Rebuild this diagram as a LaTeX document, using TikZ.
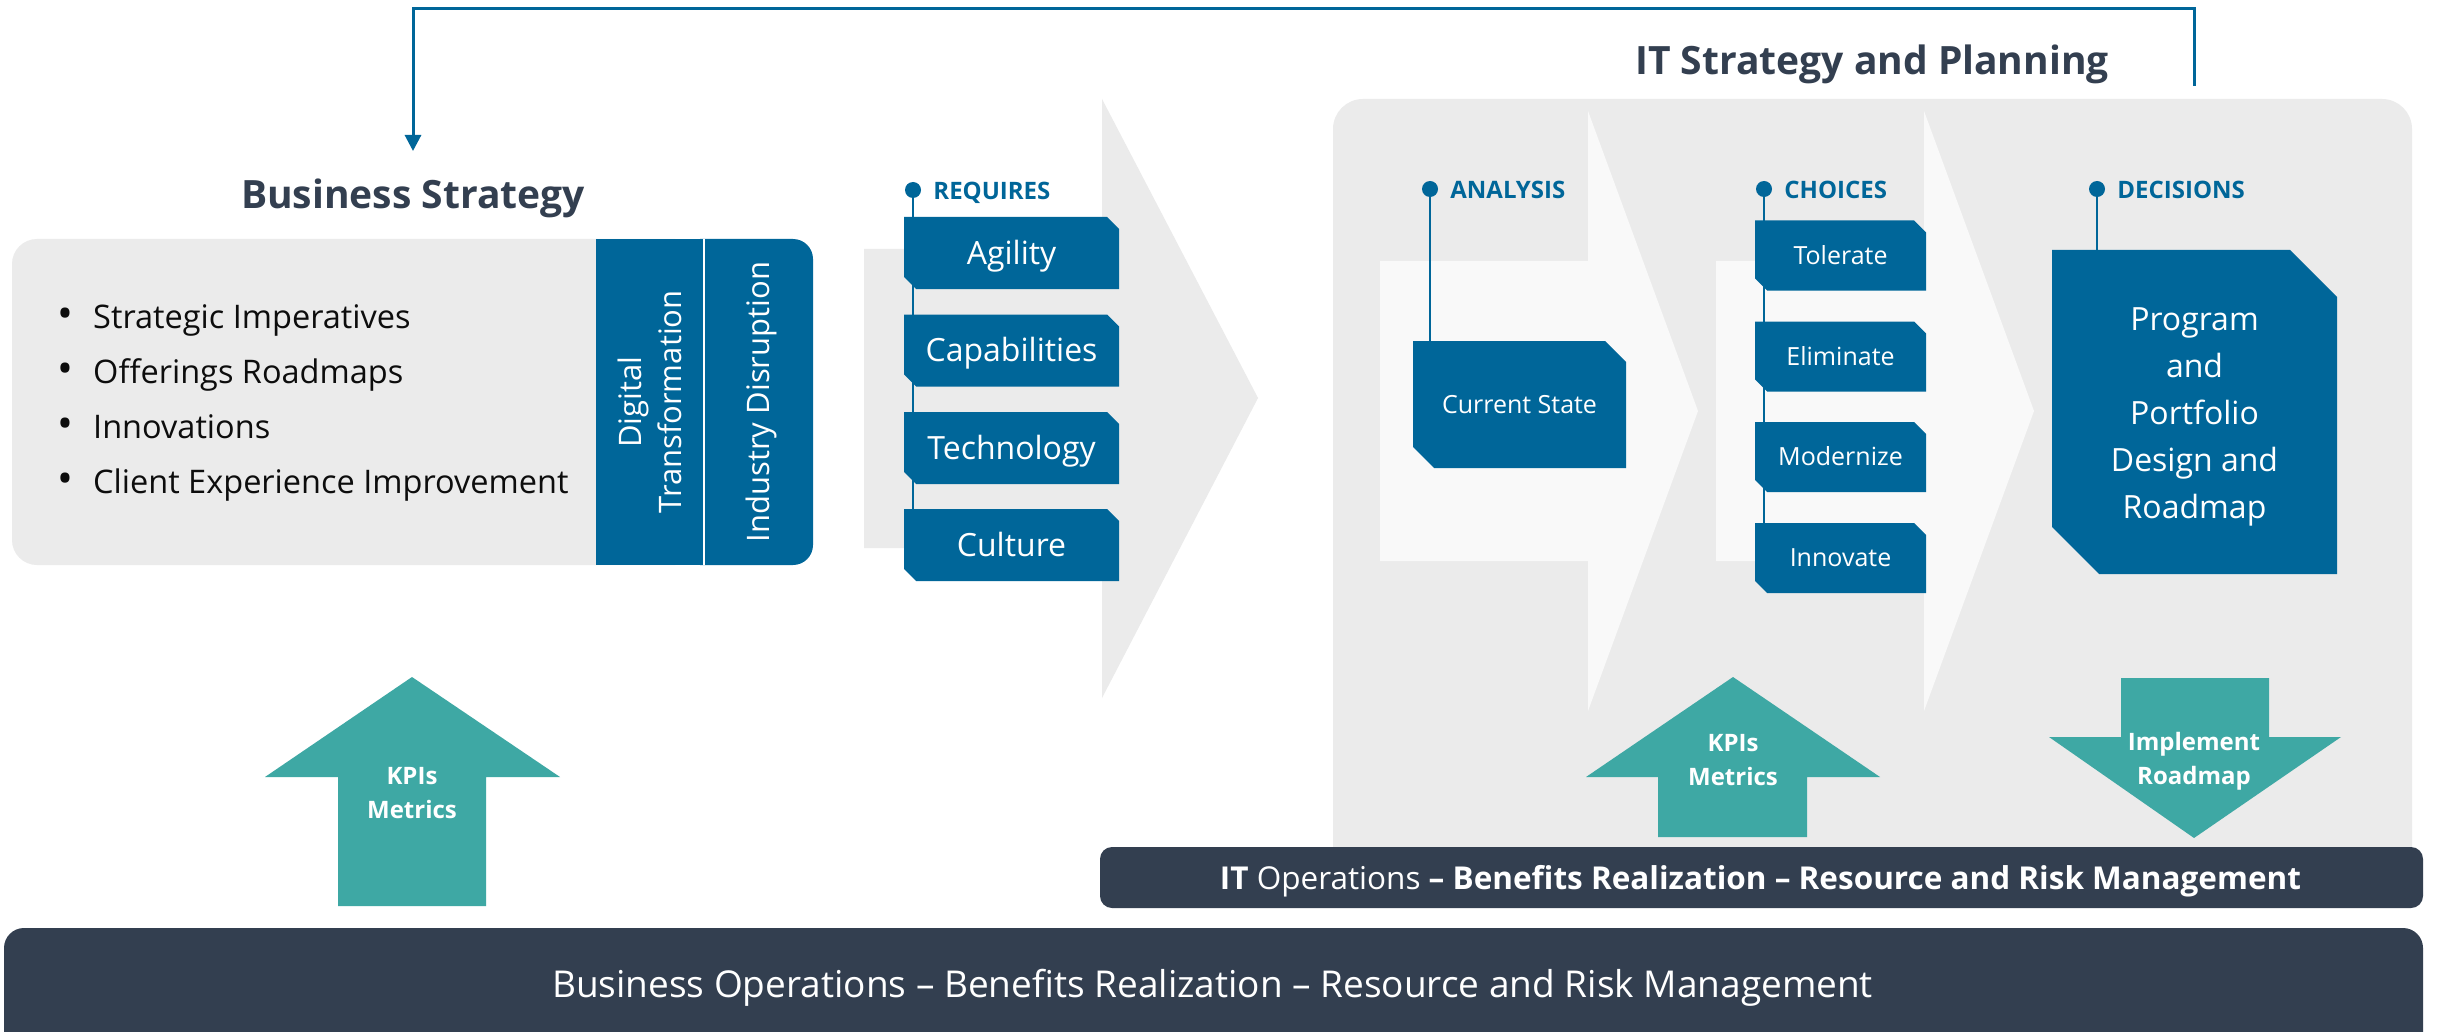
\documentclass[tikz,border=0pt]{standalone}
\usepackage{fontspec}
\setmainfont{Open Sans}
\usetikzlibrary{arrows.meta}

\definecolor{blu}{RGB}{0,102,153}
\definecolor{slate}{RGB}{51,63,80}
\definecolor{tealc}{RGB}{62,168,164}
\definecolor{pgray}{RGB}{235,235,235}
\definecolor{pwhite}{RGB}{249,249,249}
\definecolor{ink}{RGB}{13,13,13}

\pgfdeclarelayer{panels}
\pgfdeclarelayer{wires}
\pgfsetlayers{panels,wires,main}

\newcommand\fsz[2]{\fontsize{#1pt}{#2pt}\selectfont}
\newcommand\bigdot{\makebox[36pt][l]{\scalebox{1.3}{•}}}

% blue box with the top-right and bottom-left corners cut off
% #1 name, #2 text style, #3 cx, #4 cy, #5 width, #6 height, #7 cut, #8 text
\newcommand\cutbox[8]{%
  \fill[blu] ({#3-#5/2},{#4-#6/2}) -- ({#3+#5/2-#7},{#4-#6/2}) -- ({#3+#5/2},{#4-#6/2+#7})
    -- ({#3+#5/2},{#4+#6/2}) -- ({#3-#5/2+#7},{#4+#6/2}) -- ({#3-#5/2},{#4+#6/2-#7}) -- cycle;
  \node[#2, minimum width=#5pt, minimum height=#6pt] (#1) at (#3,#4) {#8};}

\tikzset{
  title/.style={font=\bfseries\fsz{39}{46}, text=slate, inner sep=0pt, text height=27.8pt, text depth=0pt, anchor=base},
  bul/.style={font=\fsz{32.5}{38}, text=ink, inner sep=0pt, anchor=base west},
  vert/.style={rotate=90, align=center, font=\fsz{31}{40}, text=white, inner sep=0pt},
  hdr/.style={font=\bfseries\fsz{24}{28}, text=blu, inner sep=0pt, anchor=base west},
  dotn/.style={circle, fill=blu, inner sep=0pt, minimum size=16pt},
  wire/.style={draw=blu, line width=2.7pt},
  reqtxt/.style={font=\fsz{32}{38}, text=white, inner sep=0pt, text height=22.8pt, text depth=0pt},
  chtxt/.style={font=\fsz{25}{30}, text=white, inner sep=0pt, text height=17.9pt, text depth=0pt},
  dectxt/.style={font=\fsz{32}{47}, text=white, inner sep=0pt, align=center, yshift=-5pt},
  kpi/.style={font=\bfseries\fsz{24}{34}, text=white, inner sep=0pt, align=center},
  opsbar/.style={text=white, inner sep=0pt, text depth=0pt},
  fbline/.style={draw=blu, line width=3pt, -{Triangle[width=16pt,length=16pt]}},
}

\begin{document}
\begin{tikzpicture}[x=1pt, y=-1pt]
\useasboundingbox (0,0) rectangle (2440,1032);

% ---------- background panels ----------
\begin{pgfonlayer}{panels}
  \fill[white] (0,0) rectangle (2440,1032);
  % business strategy card
  \fill[pgray, rounded corners=25pt] (12,239) rectangle (700,565);
  \fill[blu] (596,239) rectangle (701,565);
  \fill[blu, rounded corners=20pt] (700,239) -- (813,239) -- (813,565) -- (700,565);
  \draw[white, line width=2pt] (704,239) -- (704,565);
  % "requires" chevron
  \fill[pgray] (864,249) -- (1102,249) -- (1102,99) -- (1258,398) -- (1102,698) -- (1102,548) -- (864,548) -- cycle;
  % IT strategy panel and its two inner chevrons
  \fill[pgray, rounded corners=30pt] (1333,99) rectangle (2412,880);
  \fill[pwhite] (1380,261) -- (1588,261) -- (1588,111) -- (1698,411) -- (1588,711) -- (1588,561) -- (1380,561) -- cycle;
  \fill[pwhite] (1716,261) -- (1924,261) -- (1924,111) -- (2034,411) -- (1924,711) -- (1924,561) -- (1716,561) -- cycle;
\end{pgfonlayer}

% ---------- titles ----------
\node[title] (bstitle) at (413,209) {Business Strategy};
\node[title] (ittitle) at (1872,75) {IT Strategy and Planning};

% ---------- business strategy card ----------
\node[bul] (b1) at (57,328) {\bigdot Strategic Imperatives};
\node[bul] (b2) at (57,383) {\bigdot Offerings Roadmaps};
\node[bul] (b3) at (57,438) {\bigdot Innovations};
\node[bul] (b4) at (57,493) {\bigdot Client Experience Improvement};
\node[vert] (digital) at (650,402) {Digital\\Transformation};
\node[vert] (disrupt) at (761,402) {Industry Disruption};

% ---------- requires ----------
\node[dotn] (reqdot) at (913,190) {};
\node[hdr] (reqlab) at ([xshift=12pt,yshift=-10pt]reqdot.east) {REQUIRES};
\cutbox{agility}{reqtxt}{1011.5}{253}{215}{72}{12}{Agility}
\cutbox{capab}{reqtxt}{1011.5}{350.5}{215}{72}{12}{Capabilities}
\cutbox{techn}{reqtxt}{1011.5}{448}{215}{72}{12}{Technology}
\cutbox{culture}{reqtxt}{1011.5}{545}{215}{72}{12}{Culture}

% ---------- analysis ----------
\node[dotn] (anadot) at (1430,189) {};
\node[hdr] (analab) at ([xshift=12pt,yshift=-10pt]anadot.east) {ANALYSIS};
\cutbox{current}{chtxt}{1519.5}{404.5}{213}{127}{21}{Current State}

% ---------- choices ----------
\node[dotn] (chodot) at (1764,189) {};
\node[hdr] (cholab) at ([xshift=12pt,yshift=-10pt]chodot.east) {CHOICES};
\cutbox{tolerate}{chtxt}{1840.5}{255.5}{171}{70}{12}{Tolerate}
\cutbox{eliminate}{chtxt}{1840.5}{356.5}{171}{70}{12}{Eliminate}
\cutbox{modernize}{chtxt}{1840.5}{457}{171}{70}{12}{Modernize}
\cutbox{innovate}{chtxt}{1840.5}{558}{171}{70}{12}{Innovate}

% ---------- decisions ----------
\node[dotn] (decdot) at (2097,189) {};
\node[hdr] (declab) at ([xshift=12pt,yshift=-10pt]decdot.east) {DECISIONS};
\cutbox{decision}{dectxt}{2194.5}{412}{285}{324}{47}{Program\\and\\Portfolio\\Design and\\Roadmap}

% ---------- stems behind the boxes ----------
\begin{pgfonlayer}{wires}
  \draw[wire] (reqdot.center) -- (reqdot.center |- culture.north);
  \draw[wire] (anadot.center) -- (anadot.center |- current.north);
  \draw[wire] (chodot.center) -- (chodot.center |- innovate.north);
  \draw[wire] (decdot.center) -- (decdot.center |- decision.north);
\end{pgfonlayer}

% ---------- teal arrows ----------
\fill[tealc] (412,677) -- (560,777) -- (486,777) -- (486,906) -- (338,906) -- (338,777) -- (265,777) -- cycle;
\node[kpi] (kpi1) at (412,793) {KPIs\\Metrics};
\fill[tealc] (1733,677) -- (1880,777) -- (1807,777) -- (1807,837) -- (1658,837) -- (1658,777) -- (1586,777) -- cycle;
\node[kpi] (kpi2) at (1733,760) {KPIs\\Metrics};
\fill[tealc] (2121,678) -- (2269,678) -- (2269,737) -- (2341,737) -- (2194,838) -- (2049,737) -- (2121,737) -- cycle;
\node[kpi] (implement) at (2194,761) {Implement\\Roadmap};

% ---------- operations bars ----------
\fill[slate, rounded corners=12pt] (1100,847) rectangle (2423,908);
\node[opsbar, font=\fsz{31.5}{37}, text height=22.5pt] (itops) at (1760.5,878.5)
  {\textbf{IT} Operations \textbf{– Benefits Realization – Resource and Risk Management}};
\fill[slate, rounded corners=20pt] (4,1032) -- (4,928) -- (2423,928) -- (2423,1032);
\node[opsbar, font=\fsz{37}{44}, text height=26.4pt] (busops) at (1212.5,984.5)
  {Business Operations – Benefits Realization – Resource and Risk Management};

% ---------- feedback loop from IT planning back to business strategy ----------
\coordinate (fbstart) at (2194,86);
\coordinate (fbtop) at (2194,9);
\draw[fbline, shorten >=30pt] (fbstart) -- (fbtop) -| (bstitle.north);
\end{tikzpicture}
\end{document}
